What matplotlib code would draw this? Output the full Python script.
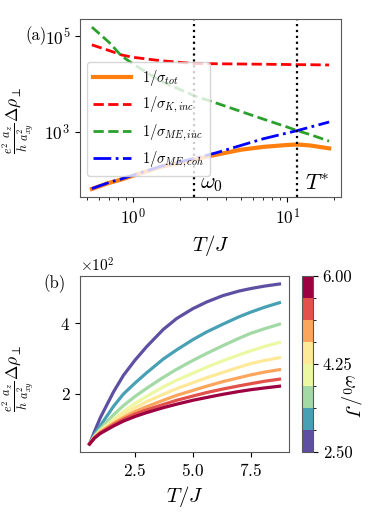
import numpy as np
import matplotlib
matplotlib.use("Agg")
import matplotlib.pyplot as plt
from matplotlib.colors import ListedColormap, BoundaryNorm
from matplotlib.cm import ScalarMappable
from matplotlib.ticker import FixedLocator, MultipleLocator, NullLocator, ScalarFormatter

plt.rcParams['font.family'] = 'serif'
plt.rcParams['font.serif'] = ['cmr10', 'DejaVu Serif']
plt.rcParams['mathtext.fontset'] = 'cm'
plt.rcParams['axes.formatter.use_mathtext'] = True

# ---------------- panel (a) data ----------------
T_a = [0.54, 0.7, 0.84, 1.0, 1.5, 2.5, 3.5, 5.0, 7.0, 10.0, 11.6, 14.0, 18.7]
rho_tot = [65, 87, 102, 123, 186, 269, 339, 427, 490, 537, 550, 525, 457]
rho_K_inc = [66100, 50100, 40700, 36300, 30900, 26900, 26600, 26300, 26000, 25700, 25500, 25400, 25100]
rho_ME_inc = [155000, 74000, 38900, 26300, 11700, 5690, 3980, 2690, 1860, 1270, 1070, 890, 646]
rho_ME_coh = [66, 89, 105, 126, 191, 282, 372, 525, 724, 955, 1070, 1260, 1620]
omega0_a = 2.5
T_star = 11.6

# ---------------- panel (b) data ----------------
T_b = [0.53, 0.75, 1.0, 1.57, 2.0, 2.5, 3.0, 3.72, 4.3, 5.0, 5.6, 6.3, 7.0, 7.5, 8.1, 8.75]
omega0_vals = [2.5, 3.0, 3.5, 4.0, 4.5, 5.0, 5.5, 6.0]
rho_b = [
    [57, 93, 132, 205, 252, 295, 333, 382, 413, 441, 460, 478, 491, 498, 505, 511],
    [57, 84, 109, 164, 199, 230, 259, 298, 324, 353, 375, 397, 418, 431, 445, 458],
    [57, 80, 100, 140, 166, 192, 215, 246, 269, 294, 314, 336, 357, 371, 384, 397],
    [57, 78, 95, 127, 149, 172, 192, 219, 238, 258, 275, 293, 310, 321, 334, 345],
    [57, 77, 93, 122, 141, 160, 177, 198, 214, 231, 245, 260, 275, 285, 294, 302],
    [57, 76, 91, 116, 132, 149, 163, 181, 195, 209, 221, 234, 245, 253, 261, 268],
    [57, 75, 89, 112, 127, 142, 154, 169, 181, 193, 203, 213, 222, 228, 235, 241],
    [57, 74, 87, 108, 122, 135, 146, 160, 170, 181, 189, 198, 206, 211, 216, 221],
]
cbar_ticks = [2.5, 4.25, 6.0]

fig = plt.figure(figsize=(3.74, 5.18), dpi=100)

spine_col = '0.35'
ylab = r'$\frac{e^2}{h}\frac{a_z}{a_{xy}^2}\Delta\rho_{\perp}$'

# ---------------- panel (a) ----------------
ax1 = fig.add_axes([80/374, 1-197/518, (341-80)/374, (197-19)/518])
ax1.plot(T_a, rho_tot, color='#ff7f0e', lw=3.0, label=r'$1/\sigma_{tot}$')
ax1.plot(T_a, rho_K_inc, color='red', lw=2.0, ls='--', label=r'$1/\sigma_{K,inc}$')
ax1.plot(T_a, rho_ME_inc, color='#2ca02c', lw=2.0, ls='--', label=r'$1/\sigma_{ME,inc}$')
ax1.plot(T_a, rho_ME_coh, color='blue', lw=2.0, ls='-.', label=r'$1/\sigma_{ME,coh}$')
ax1.set_xscale('log')
ax1.set_yscale('log')
ax1.axvline(omega0_a, color='black', ls=':', lw=1.6)
ax1.axvline(T_star, color='black', ls=':', lw=1.6)
ax1.yaxis.set_major_locator(FixedLocator([1e3, 1e5]))
ax1.yaxis.set_minor_locator(NullLocator())
ax1.tick_params(labelsize=12.5)
ax1.text(2.7, 50, r'$\omega_0$', fontsize=16, ha='left', va='bottom')
ax1.text(13.0, 50, r'$T^{*}$', fontsize=16, ha='left', va='bottom')
ax1.set_xlabel(r'$T/J$', fontsize=15)
ax1.set_ylabel(ylab, fontsize=12.5)
ax1.yaxis.set_label_coords(-0.17, 0.43)
leg = ax1.legend(loc='upper left', bbox_to_anchor=(0.027, 0.757), borderaxespad=0,
                 fontsize=10.5, handlelength=2.6, framealpha=0.8)
for s in ax1.spines.values():
    s.set_color(spine_col)
fig.text(25/374, 1-36/518, '(a)', fontsize=12, va='center', ha='left')

# ---------------- panel (b) ----------------
colors = plt.get_cmap('Spectral_r')(np.linspace(0, 1, len(omega0_vals)))
ax2 = fig.add_axes([80/374, 1-452/518, (289-80)/374, (452-276)/518])
for vals, c in zip(rho_b, colors):
    ax2.plot(T_b, vals, color=c, lw=2.3)
ax2.yaxis.set_major_locator(MultipleLocator(200))
fmt = ScalarFormatter(useMathText=True)
fmt.set_powerlimits((0, 0))
ax2.yaxis.set_major_formatter(fmt)
ax2.xaxis.set_major_locator(FixedLocator([2.5, 5.0, 7.5]))
ax2.tick_params(labelsize=12.5)
ax2.yaxis.get_offset_text().set_fontsize(11)
ax2.set_xlabel(r'$T/J$', fontsize=15)
ax2.set_ylabel(ylab, fontsize=12.5)
ax2.yaxis.set_label_coords(-0.21, 0.42)
for s in ax2.spines.values():
    s.set_color(spine_col)
fig.text(43/374, 1-284/518, '(b)', fontsize=12, va='center', ha='left')

# colorbar
cax = fig.add_axes([302/374, 1-452/518, 11/374, (452-276)/518])
bounds = np.linspace(2.5, 6.0, len(omega0_vals) + 1)
cmap = ListedColormap(colors)
norm = BoundaryNorm(bounds, cmap.N)
sm = ScalarMappable(norm=norm, cmap=cmap)
cb = fig.colorbar(sm, cax=cax, ticks=cbar_ticks)
cb.ax.set_yticklabels(['%.2f' % t for t in cbar_ticks])
cb.ax.tick_params(labelsize=12)
cb.outline.set_edgecolor(spine_col)
fig.text(351/374, 1-396/518, r'$\omega_0/J$', fontsize=14, rotation=270,
         ha='center', va='center')

fig.savefig('out.png', dpi=100)
